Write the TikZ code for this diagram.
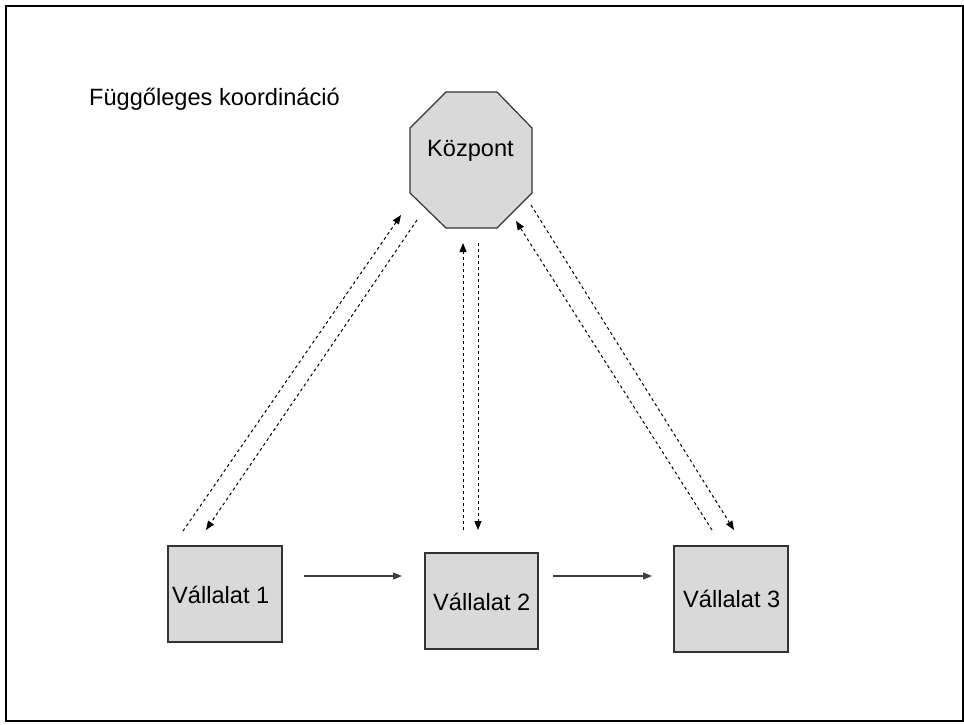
\documentclass[tikz,border=0pt]{standalone}
\usepackage{fontspec}
\setmainfont{Liberation Sans}
\usetikzlibrary{arrows.meta}
\definecolor{boxfill}{HTML}{D9D9D9}
\definecolor{boxdraw}{HTML}{333333}
\tikzset{
  txt/.style={font=\fontsize{23.6}{28}\selectfont, inner sep=0pt, anchor=base west},
  firm/.style={draw=boxdraw, fill=boxfill, line width=1.2pt},
  flow/.style={draw=black!75, line width=1.3pt, -{Triangle[length=9pt,width=7pt]}},
  info/.style={draw=black, line width=1pt, dash pattern=on 3pt off 3pt},
  infoarr/.style={info, -{Triangle[length=9pt,width=7pt]}}
}
\begin{document}
\begin{tikzpicture}[x=1pt,y=-1pt]
\useasboundingbox (0,0) rectangle (964,724);
% frame
\draw[line width=2pt] (6,5.5) rectangle (962.5,720.5);
% title
\node[txt] (title) at (89,105) {Függőleges koordináció};
% octagon
\draw[firm] (446,92) -- (497,92) -- (532,128) -- (532,193) -- (497,228) -- (446,228) -- (410,193) -- (410,128) -- cycle;
\node[txt] (kp) at (427,156) {Központ};
% firms
\node[firm, minimum width=114pt, minimum height=96pt, inner sep=0pt] (v1) at (225,594) {};
\node[firm, minimum width=113pt, minimum height=96pt, inner sep=0pt] (v2) at (481.5,601) {};
\node[firm, minimum width=114pt, minimum height=106pt, inner sep=0pt] (v3) at (731,599) {};
\node[txt] (t1) at (172,603) {Vállalat 1};
\node[txt] (t2) at (433,610) {Vállalat 2};
\node[txt] (t3) at (683,607) {Vállalat 3};
% solid arrows
\coordinate (a1s) at (304,576); \coordinate (a1e) at (402,576);
\coordinate (a2s) at (553,576); \coordinate (a2e) at (652,576);
\draw[flow] (a1s) -- (a1e);
\draw[flow] (a2s) -- (a2e);
% dashed arrows left pair
\coordinate (l1s) at (183,531); \coordinate (l1e) at (401,215);
\coordinate (l2s) at (417,220); \coordinate (l2e) at (206,530);
\draw[infoarr] (l1s) -- (l1e);
\draw[infoarr] (l2s) -- (l2e);
% middle pair
\coordinate (m1s) at (463,530); \coordinate (m1e) at (463,243);
\coordinate (m2s) at (478,243); \coordinate (m2e) at (478,530);
\draw[infoarr] (m1s) -- (m1e);
\draw[infoarr] (m2s) -- (m2e);
% right pair
\coordinate (r1s) at (712,530); \coordinate (r1e) at (516,221);
\coordinate (r2s) at (531,205); \coordinate (r2e) at (734,530);
\draw[infoarr] (r1s) -- (r1e);
\draw[infoarr] (r2s) -- (r2e);
\end{tikzpicture}
\end{document}
